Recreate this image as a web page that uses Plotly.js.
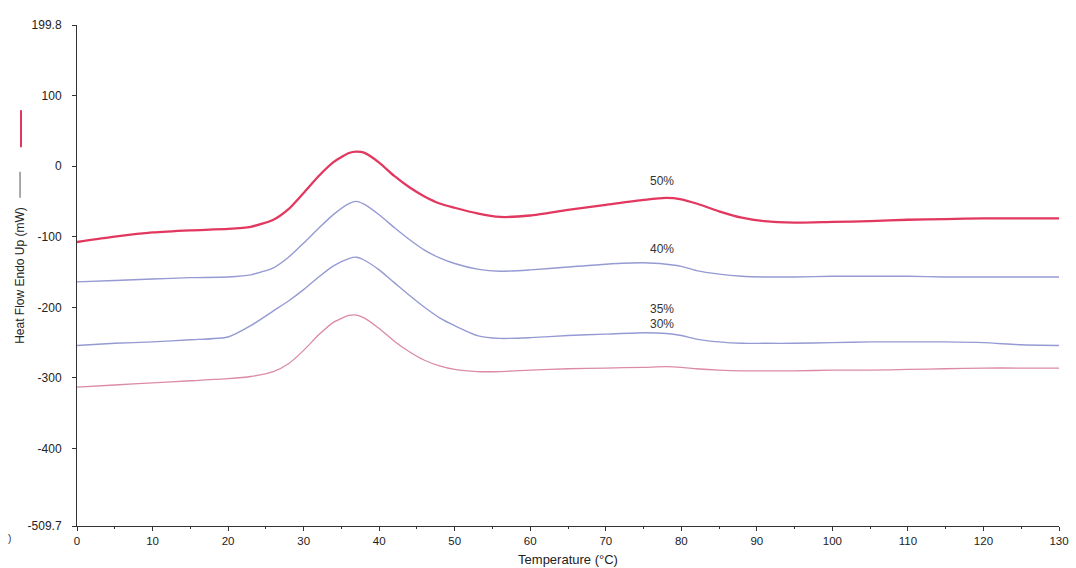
<!DOCTYPE html>
<html>
<head>
<meta charset="utf-8">
<script src="https://cdn.plot.ly/plotly-3.0.1.min.js"></script>
<style>
  html, body { margin: 0; padding: 0; background: #ffffff; }
  #chart { width: 1076px; height: 568px; }
</style>
</head>
<body>
<div id="chart"></div>
<script>
// DSC heating scans, heat flow (mW) against temperature (°C)
const temps = [0, 5, 10, 15, 20, 23, 26, 28, 30, 32, 34, 36, 37, 38, 40, 42, 44, 46, 48, 50,
               53, 56, 60, 65, 70, 75, 78, 80, 82, 85, 88, 91, 95, 100, 105, 110, 115, 120, 125, 130];

const flow50 = [-107.5, -100, -94, -91, -89, -86, -76, -61, -38, -14, 6, 18.5, 20.5, 19, 5, -14, -30, -43, -53, -59,
                -67, -72, -70, -62, -55, -48, -45, -47, -53, -64, -73, -78, -80, -79, -78, -76, -75, -74, -74, -74];

const flow40 = [-164, -162, -160, -158, -157, -154, -144, -129, -109, -88, -68, -53, -50, -54, -69, -87, -104, -119, -130, -138,
                -146, -149, -147, -143, -139, -137, -139, -142, -148, -153, -156, -157, -157, -156, -156, -156, -157, -157, -157, -157];

const flow35 = [-254, -251, -249, -246, -242, -226, -205, -191, -175, -157, -141, -131, -129, -133, -147, -165, -183, -200, -215, -226,
                -240, -244, -243, -240, -238, -236, -237, -240, -245, -249, -251, -251, -251, -250, -249, -249, -249, -250, -253, -254];

const flow30 = [-313, -310, -307, -304, -301, -298, -291, -280, -261, -239, -221, -211.5, -211, -215, -230, -248, -263, -275, -283, -288,
                -291, -291, -289, -287, -286, -285, -284, -285, -287, -289, -290, -290, -290, -289, -289, -288, -287, -286, -286, -286];

const yTickVals = [199.8, 100, 0, -100, -200, -300, -400, -509.7];
const yTickText = ['199.8', '100', '0', '-100', '-200', '-300', '-400', '-509.7'];
const xTickVals = [0, 10, 20, 30, 40, 50, 60, 70, 80, 90, 100, 110, 120, 130];

const seriesLabels = ['50%', '40%', '35%', '30%'];
const labelTemp = 77.5;
const labelFlow = [-21, -117, -202, -224];

const font = 'Liberation Sans, Arial, sans-serif';

function curve(y, color, width) {
  return {
    x: temps, y: y, type: 'scatter', mode: 'lines',
    line: { color: color, width: width, shape: 'spline', smoothing: 0.6 },
    hoverinfo: 'x+y', showlegend: false
  };
}

const data = [
  curve(flow30, '#dc8aa6', 1.3),
  curve(flow35, '#959ad3', 1.4),
  curve(flow40, '#959ad3', 1.4),
  curve(flow50, '#e2385f', 2.3)
];

const annotations = seriesLabels.map((t, i) => ({
  x: labelTemp, y: labelFlow[i], xref: 'x', yref: 'y', text: t, showarrow: false,
  font: { family: font, size: 12, color: '#333333' }
}));

annotations.push({
  x: -0.072, y: -0.04, xref: 'paper', yref: 'paper', text: ')', showarrow: false,
  font: { family: font, size: 10, color: '#333333' }
});

const layout = {
  width: 1076, height: 568,
  margin: { l: 77, r: 17, t: 25, b: 42 },
  paper_bgcolor: '#ffffff', plot_bgcolor: '#ffffff',
  font: { family: font, color: '#222222' },
  xaxis: {
    range: [0, 130], tickvals: xTickVals, showgrid: false, zeroline: false,
    showline: true, linecolor: '#333333', linewidth: 1,
    ticks: 'outside', ticklen: 4, tickcolor: '#333333',
    minor: { dtick: 5, ticks: 'outside', ticklen: 2, tickcolor: '#333333' },
    tickfont: { family: font, size: 11.5, color: '#222222' },
    title: { text: 'Temperature (°C)', font: { family: font, size: 13, color: '#222222' }, standoff: 9 },
    automargin: false
  },
  yaxis: {
    range: [-509.7, 199.8], tickvals: yTickVals, ticktext: yTickText,
    showgrid: false, zeroline: false,
    showline: true, linecolor: '#333333', linewidth: 1,
    ticks: 'outside', ticklen: 4, tickcolor: '#333333', ticklabelstandoff: 8,
    tickfont: { family: font, size: 12, color: '#222222' },
    title: { text: 'Heat Flow Endo Up (mW)', font: { family: font, size: 12, color: '#222222' }, standoff: 0 },
    automargin: false
  },
  shapes: [
    // key marks beside the axis title
    { type: 'line', xref: 'paper', yref: 'paper', x0: -0.058, x1: -0.058, y0: 0.655, y1: 0.707,
      line: { color: '#555555', width: 1 } },
    { type: 'line', xref: 'paper', yref: 'paper', x0: -0.057, x1: -0.057, y0: 0.756, y1: 0.830,
      line: { color: '#e2385f', width: 2 } }
  ],
  annotations: annotations
};

Plotly.newPlot('chart', data, layout, { displayModeBar: false, staticPlot: true });
</script>
</body>
</html>
